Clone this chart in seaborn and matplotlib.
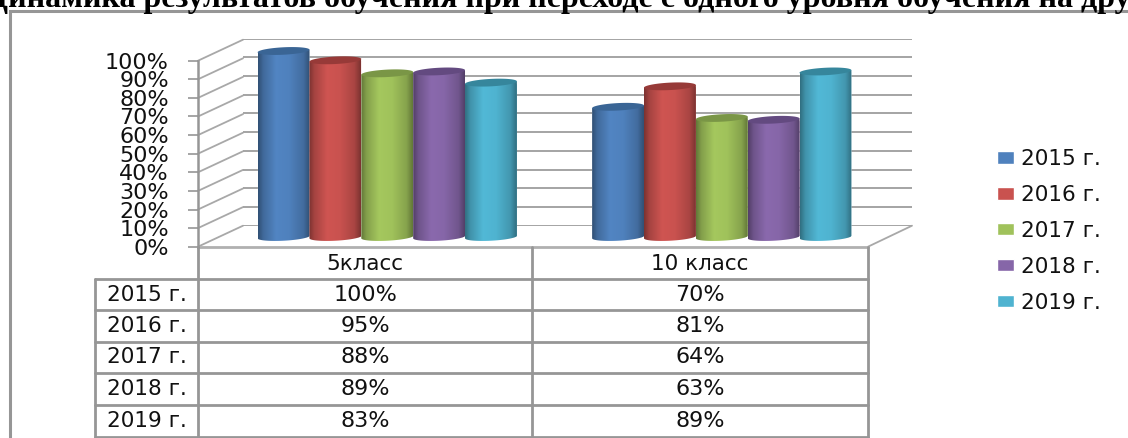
import numpy as np
import pandas as pd
import matplotlib
matplotlib.use("Agg")
import matplotlib.pyplot as plt
from matplotlib.colors import to_rgb
from matplotlib.patches import PathPatch, Polygon
from matplotlib.path import Path
import seaborn as sns

classes = ["5класс", "10 класс"]
years = ["2015 г.", "2016 г.", "2017 г.", "2018 г.", "2019 г."]
vals_2015 = [100, 70]
vals_2016 = [95, 81]
vals_2017 = [88, 64]
vals_2018 = [89, 63]
vals_2019 = [83, 89]
colors = ["#4f81bd", "#c9524f", "#a0c25b", "#8666a8", "#4fb3d0"]
cap_colors = ["#3a6595", "#973a38", "#7a9646", "#634a80", "#36869c"]
ticks = list(range(0, 101, 10))
title = "Динамика результатов обучения при переходе с одного уровня обучения на другой"

W, H = 1128, 438
LINE = "#969696"

sns.set_theme(style="white")
plt.rcParams["font.family"] = ["DejaVu Sans"]
plt.rcParams["text.color"] = "#111111"
plt.rcParams["ytick.labelcolor"] = "#111111"

rows = [vals_2015, vals_2016, vals_2017, vals_2018, vals_2019]
df = pd.DataFrame(rows, columns=classes)
df["year"] = years
long_df = df.melt(id_vars="year", var_name="klass", value_name="val")


def box(left, top, right, bottom):
    return [left / W, 1 - bottom / H, (right - left) / W, (bottom - top) / H]


fig = plt.figure(figsize=(W / 100, H / 100), dpi=100, facecolor="white")

# pixel layer for frame, floor and table
px = fig.add_axes([0, 0, 1, 1])
px.set_xlim(0, W)
px.set_ylim(H, 0)
px.axis("off")

px.plot([10, 10, W], [H, 11, 11], color=LINE, lw=2.2, solid_joinstyle="miter")
px.text(-14, 7, title, family="Liberation Serif", weight="bold", fontsize=23,
        color="black", ha="left", va="baseline", clip_on=True)

# back wall
back = fig.add_axes(box(243, 38.7, 912, 225.7))
back.patch.set_alpha(0)
back.set_ylim(0, 100)
back.set_yticks(ticks)
back.set_xticks([])
back.tick_params(left=False, labelleft=False)
back.grid(axis="y", color="#a4a4a4", lw=1.4)
sns.despine(ax=back, left=True, bottom=True)

# depth lines on the left wall and floor
for t in ticks:
    y = 246.7 - t * 1.86
    px.plot([198, 243], [y, y - 21], color="#a8a8a8", lw=1.3)
px.plot([868, 912], [246.7, 225.7], color="#a8a8a8", lw=1.3)
px.plot([198, 868], [246.7, 246.7], color="#b0b0b0", lw=2)

# front axis with the percent labels
front = fig.add_axes(box(198, 60.7, 868, 246.7))
front.patch.set_alpha(0)
front.set_ylim(0, 100)
front.set_xticks([])
front.set_yticks(ticks)
front.set_yticklabels([f"{t}%" for t in ticks], fontsize=16)
front.tick_params(axis="y", left=True, length=7, width=1.2, color=LINE, pad=14)
sns.despine(ax=front, bottom=True)
front.spines["left"].set_color(LINE)
front.spines["left"].set_linewidth(1.8)

# bars, the axes has some room below 0 for the round bottoms
ax = fig.add_axes(box(220, 51 - 9.3, 889, 237 + 9.3))
ax.patch.set_alpha(0)
sns.barplot(data=long_df, x="klass", y="val", hue="year", hue_order=years,
            order=classes, palette=colors, width=0.775, saturation=1, ax=ax)
ax.set_xlim(-0.5, 1.5)
ax.set_ylim(-5, 105)
ax.set_autoscale_on(False)
ax.axis("off")

# turn the flat bars into cylinders
ry = 2.0
tilt = 0.7
shade = np.interp(np.linspace(0, 1, 80), [0, 0.1, 0.35, 0.6, 0.88, 1],
                  [0.62, 0.82, 1.03, 1.0, 0.84, 0.62])
order = 0
for h, cont in enumerate(ax.containers):
    base = np.array(to_rgb(colors[h]))
    grad = np.clip(shade[None, :, None] * base[None, None, :], 0, 1)
    for bar in cont:
        x0, w, val = bar.get_x(), bar.get_width(), bar.get_height()
        t_low = np.linspace(np.pi, 2 * np.pi, 40)
        xs = x0 + w / 2 + w / 2 * np.cos(t_low)
        ys = ry * np.sin(t_low) + tilt * np.cos(t_low)
        outline = np.vstack([[x0, val - tilt], np.column_stack([xs, ys]),
                             [x0 + w, val + tilt], [x0, val - tilt]])
        body = PathPatch(Path(outline), transform=ax.transData, fc="none", ec="none")
        ax.add_patch(body)
        bar.set_clip_path(body)
        im = ax.imshow(grad, extent=[x0, x0 + w, -ry - 1, val + 1], aspect="auto",
                       zorder=5 + order)
        im.set_clip_path(body)
        t_all = np.linspace(0, 2 * np.pi, 60)
        cap = Polygon(np.column_stack([x0 + w / 2 + w / 2 * np.cos(t_all),
                                       val + ry * np.sin(t_all) + tilt * np.cos(t_all)]),
                      fc=cap_colors[h], ec="none", zorder=5.5 + order)
        ax.add_patch(cap)
        order += 1

sns.move_legend(ax, "center left", bbox_to_anchor=(997 / W, 1 - 231 / H),
                bbox_transform=fig.transFigure, frameon=False, title=None,
                fontsize=15.5, labelspacing=0.74, handlelength=0.79, handleheight=0.5,
                handletextpad=0.33, borderaxespad=0, borderpad=0)

# data table
col_x = [95, 198, 532, 868]
row_y = [246.7, 279.3, 310, 341.7, 373, 405, 436.7]
px.plot([198, 198], [246.7, row_y[-1]], color=LINE, lw=2)
px.plot([532, 532], [246.7, row_y[-1]], color=LINE, lw=2)
px.plot([868, 868], [246.7, row_y[-1]], color=LINE, lw=2)
px.plot([95, 95], [row_y[1], row_y[-1]], color=LINE, lw=2)
for y in row_y[1:]:
    px.plot([95, 868], [y, y], color=LINE, lw=2)

for j, name in enumerate(classes):
    px.text((col_x[j + 1] + col_x[j + 2]) / 2, (row_y[0] + row_y[1]) / 2 + 1, name,
            fontsize=15.5, ha="center", va="center")
for i, year in enumerate(years):
    mid = (row_y[i + 1] + row_y[i + 2]) / 2
    px.text((col_x[0] + col_x[1]) / 2, mid, year, fontsize=15.5, ha="center", va="center")
    for j in range(2):
        px.text((col_x[j + 1] + col_x[j + 2]) / 2, mid, f"{rows[i][j]}%",
                fontsize=16, ha="center", va="center")

fig.savefig("out.png", dpi=100)
